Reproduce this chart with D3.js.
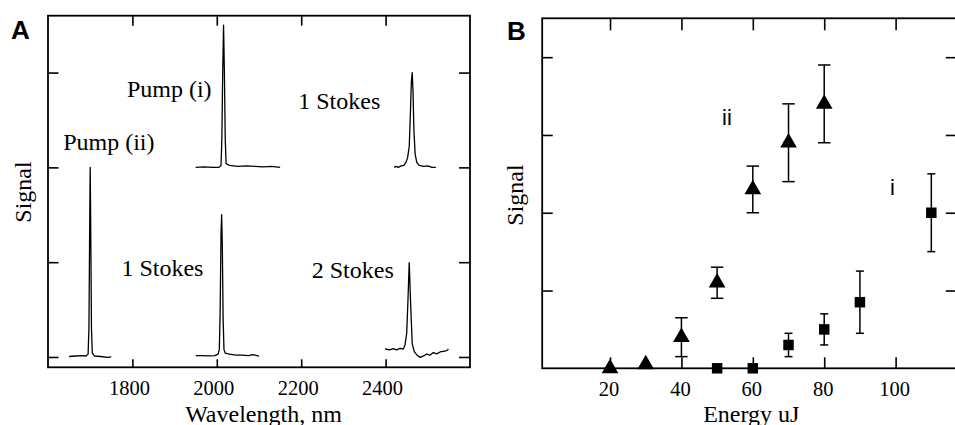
<!DOCTYPE html>
<html>
<head>
<meta charset="utf-8">
<script src="https://cdn.jsdelivr.net/npm/d3@7"></script>
<style>
  html, body { margin: 0; padding: 0; background: #fff; }
  svg { display: block; }
</style>
</head>
<body>
<svg id="chart" width="955" height="425"></svg>
<script>
// ---------- Panel A data: spectra [wavelength nm, signal] ----------
const pumpII = [[1650,0.005],[1665,0.01],[1680,0.015],[1690,0.01],[1695,0.03],[1697,0.3],[1699,1.5],[1700,2.0],[1701,1.5],[1703,0.3],[1705,0.04],[1710,0.01],[1725,0.005],[1740,-0.005],[1750,0]];
const pumpI = [[1950,2.0],[1970,2.005],[1990,2.0],[2005,2.0],[2010,2.02],[2012,2.3],[2014,3.0],[2016,3.5],[2018,3.0],[2020,2.3],[2022,2.04],[2030,2.02],[2050,2.01],[2070,2.015],[2090,2.01],[2110,2.005],[2130,2.01],[2150,2.0]];
const stokes1Lower = [[1950,0.015],[1965,0.015],[1980,0.012],[1995,0.015],[2003,0.03],[2006,0.08],[2008,0.5],[2010,1.3],[2011.5,1.5],[2013,1.2],[2015,0.4],[2017,0.08],[2020,0.04],[2030,0.03],[2045,0.02],[2060,0.02],[2075,0.015],[2085,0.025],[2095,0.015],[2100,0.01]];
const stokes1Upper = [[2420,2.0],[2425,2.01],[2430,2.0],[2437,2.015],[2443,2.02],[2448,2.05],[2452,2.1],[2456,2.22],[2459,2.6],[2461,2.9],[2463,3.0],[2465,2.8],[2467,2.4],[2470,2.14],[2474,2.05],[2480,2.02],[2490,2.01],[2500,2.015],[2510,2.0],[2519,2.0]];
const stokes2 = [[2399,0.084],[2410,0.074],[2418,0.088],[2426,0.074],[2434,0.091],[2442,0.084],[2446,0.127],[2450,0.25],[2453,0.6],[2456,0.995],[2459,0.6],[2463,0.14],[2468,0.056],[2474,0.021],[2482,-0.004],[2490,0.011],[2497,0.032],[2505,0.018],[2513,0.046],[2521,0.032],[2529,0.053],[2537,0.06],[2545,0.067],[2549,0.084]];
const spectraA = [pumpII, pumpI, stokes1Lower, stokes1Upper, stokes2];
const labelsA = [
  {text: "Pump (i)",  wl: 1787, s: 2.74},
  {text: "Pump (ii)", wl: 1636, s: 2.18},
  {text: "1 Stokes",  wl: 2193, s: 2.62},
  {text: "1 Stokes",  wl: 1774, s: 0.85},
  {text: "2 Stokes",  wl: 2225, s: 0.83}
];
const xTicksA = [1800, 2000, 2200, 2400];
const yTicksA = [0, 1, 2, 3];

// ---------- Panel B data ----------
const energyTri = [20, 30, 40, 50, 60, 70, 80];
const signalTri = [0, 0.05, 0.4, 1.1, 2.3, 2.9, 3.4];
const errTri    = [0, 0, 0.25, 0.2, 0.3, 0.5, 0.5];
const energySq  = [50, 60, 70, 80, 90, 110];
const signalSq  = [0, 0, 0.3, 0.5, 0.85, 2.0];
const errSq     = [0, 0, 0.15, 0.2, 0.4, 0.5];
const labelsB = [{text: "ii", e: 51.4, s: 3.13}, {text: "i", e: 98.4, s: 2.23}];
const xTicksB = [20, 40, 60, 80, 100];
const yTicksB = [1, 2, 3, 4];

const svg = d3.select("#chart");
const serif = "'Liberation Serif', 'Times New Roman', serif";
const sans = "'Liberation Sans', Arial, sans-serif";
const fmt = d3.format("d");

// ================= Panel A =================
const xA = d3.scaleLinear().domain([1600, 2600]).range([48, 470]);
const yA = d3.scaleLinear().domain([-0.109, 3.6]).range([367.3, 15.7]);
const gA = svg.append("g");

function styleAxis(g) {
  g.select(".domain").remove();
  g.selectAll(".tick line").attr("stroke", "#000").attr("stroke-width", 1.6);
}

gA.append("g").attr("transform", `translate(0,${yA.range()[0]})`)
  .call(d3.axisBottom(xA).tickValues(xTicksA).tickSize(-8).tickPadding(13.6).tickFormat(fmt))
  .call(styleAxis)
  .call(g => g.selectAll("text").attr("font-family", serif).attr("font-size", 20.5).attr("fill", "#000").attr("dx", -3.5));
gA.append("g").attr("transform", `translate(0,${yA.range()[1]})`)
  .call(d3.axisTop(xA).tickValues(xTicksA).tickSize(-10).tickFormat(""))
  .call(styleAxis);
gA.append("g").attr("transform", `translate(${xA.range()[0]},0)`)
  .call(d3.axisLeft(yA).tickValues(yTicksA).tickSize(-10.5).tickFormat(""))
  .call(styleAxis);
gA.append("g").attr("transform", `translate(${xA.range()[1]},0)`)
  .call(d3.axisRight(yA).tickValues(yTicksA).tickSize(-11).tickFormat(""))
  .call(styleAxis);

gA.append("rect")
  .attr("x", xA.range()[0]).attr("y", yA.range()[1])
  .attr("width", xA.range()[1] - xA.range()[0]).attr("height", yA.range()[0] - yA.range()[1])
  .attr("fill", "none").attr("stroke", "#000").attr("stroke-width", 1.8);

const lineA = d3.line().x(d => xA(d[0])).y(d => yA(d[1]));
gA.selectAll("path.spec").data(spectraA).join("path")
  .attr("class", "spec")
  .attr("d", lineA)
  .attr("fill", "none").attr("stroke", "#000").attr("stroke-width", 1.3).attr("stroke-linejoin", "round");

gA.selectAll("text.lab").data(labelsA).join("text")
  .attr("class", "lab")
  .attr("x", d => xA(d.wl)).attr("y", d => yA(d.s))
  .attr("font-family", serif).attr("font-size", 24).attr("fill", "#000")
  .text(d => d.text);

gA.append("text").attr("x", 263.5).attr("y", 421.5).attr("text-anchor", "middle")
  .attr("font-family", serif).attr("font-size", 24).text("Wavelength, nm");
gA.append("text").attr("transform", "translate(30.5,192) rotate(-90)").attr("text-anchor", "middle")
  .attr("font-family", serif).attr("font-size", 24).text("Signal");
gA.append("text").attr("x", 11).attr("y", 39).attr("font-family", sans).attr("font-weight", "bold")
  .attr("font-size", 26).text("A");

// ================= Panel B =================
const xB = d3.scaleLinear().domain([1, 117]).range([542.2, 956.3]);
const yB = d3.scaleLinear().domain([0, 4.5]).range([368.3, 18.3]);
const gB = svg.append("g");

gB.append("g").attr("transform", `translate(0,${yB.range()[0]})`)
  .call(d3.axisBottom(xB).tickValues(xTicksB).tickSize(-11).tickPadding(12.8).tickFormat(fmt))
  .call(styleAxis)
  .call(g => g.selectAll("text").attr("font-family", serif).attr("font-size", 20.5).attr("fill", "#000").attr("dx", -1.5));
gB.append("g").attr("transform", `translate(0,${yB.range()[1]})`)
  .call(d3.axisTop(xB).tickValues(xTicksB).tickSize(-12).tickFormat(""))
  .call(styleAxis);
gB.append("g").attr("transform", `translate(${xB.range()[0]},0)`)
  .call(d3.axisLeft(yB).tickValues(yTicksB).tickSize(-10.5).tickFormat(""))
  .call(styleAxis);
gB.append("g").attr("transform", `translate(${xB.range()[1]},0)`)
  .call(d3.axisRight(yB).tickValues(yTicksB).tickSize(-10.5).tickFormat(""))
  .call(styleAxis);

gB.append("rect")
  .attr("x", xB.range()[0]).attr("y", yB.range()[1])
  .attr("width", xB.range()[1] - xB.range()[0]).attr("height", yB.range()[0] - yB.range()[1])
  .attr("fill", "none").attr("stroke", "#000").attr("stroke-width", 1.8);

const triData = energyTri.map((e, i) => ({e, s: signalTri[i], err: errTri[i]}));
const sqData = energySq.map((e, i) => ({e, s: signalSq[i], err: errSq[i]}));

function errorBars(data, cap) {
  const g = gB.append("g").attr("stroke", "#000").attr("stroke-width", 1.5);
  data.filter(d => d.err > 0).forEach(d => {
    const x = xB(d.e), y0 = yB(d.s - d.err), y1 = yB(d.s + d.err);
    g.append("line").attr("x1", x).attr("x2", x).attr("y1", y0).attr("y2", y1);
    g.append("line").attr("x1", x - cap / 2).attr("x2", x + cap / 2).attr("y1", y0).attr("y2", y0);
    g.append("line").attr("x1", x - cap / 2).attr("x2", x + cap / 2).attr("y1", y1).attr("y2", y1);
  });
}
errorBars(triData, 12.5);
errorBars(sqData, 8);

gB.selectAll("path.tri").data(triData).join("path")
  .attr("class", "tri")
  .attr("d", d3.symbol(d3.symbolTriangle, 121))
  .attr("transform", d => `translate(${xB(d.e)},${yB(d.s)})`)
  .attr("fill", "#000");
gB.selectAll("path.sq").data(sqData).join("path")
  .attr("class", "sq")
  .attr("d", d3.symbol(d3.symbolSquare, 110))
  .attr("transform", d => `translate(${xB(d.e)},${yB(d.s)})`)
  .attr("fill", "#000");

gB.selectAll("text.lab").data(labelsB).join("text")
  .attr("class", "lab")
  .attr("x", d => xB(d.e)).attr("y", d => yB(d.s))
  .attr("font-family", sans).attr("font-size", 22).attr("fill", "#000")
  .text(d => d.text);

gB.append("text").attr("x", 751.3).attr("y", 421.5).attr("text-anchor", "middle")
  .attr("font-family", serif).attr("font-size", 24).text("Energy uJ");
gB.append("text").attr("transform", "translate(523,195) rotate(-90)").attr("text-anchor", "middle")
  .attr("font-family", serif).attr("font-size", 24).text("Signal");
gB.append("text").attr("x", 507).attr("y", 40).attr("font-family", sans).attr("font-weight", "bold")
  .attr("font-size", 26).text("B");
</script>
</body>
</html>
